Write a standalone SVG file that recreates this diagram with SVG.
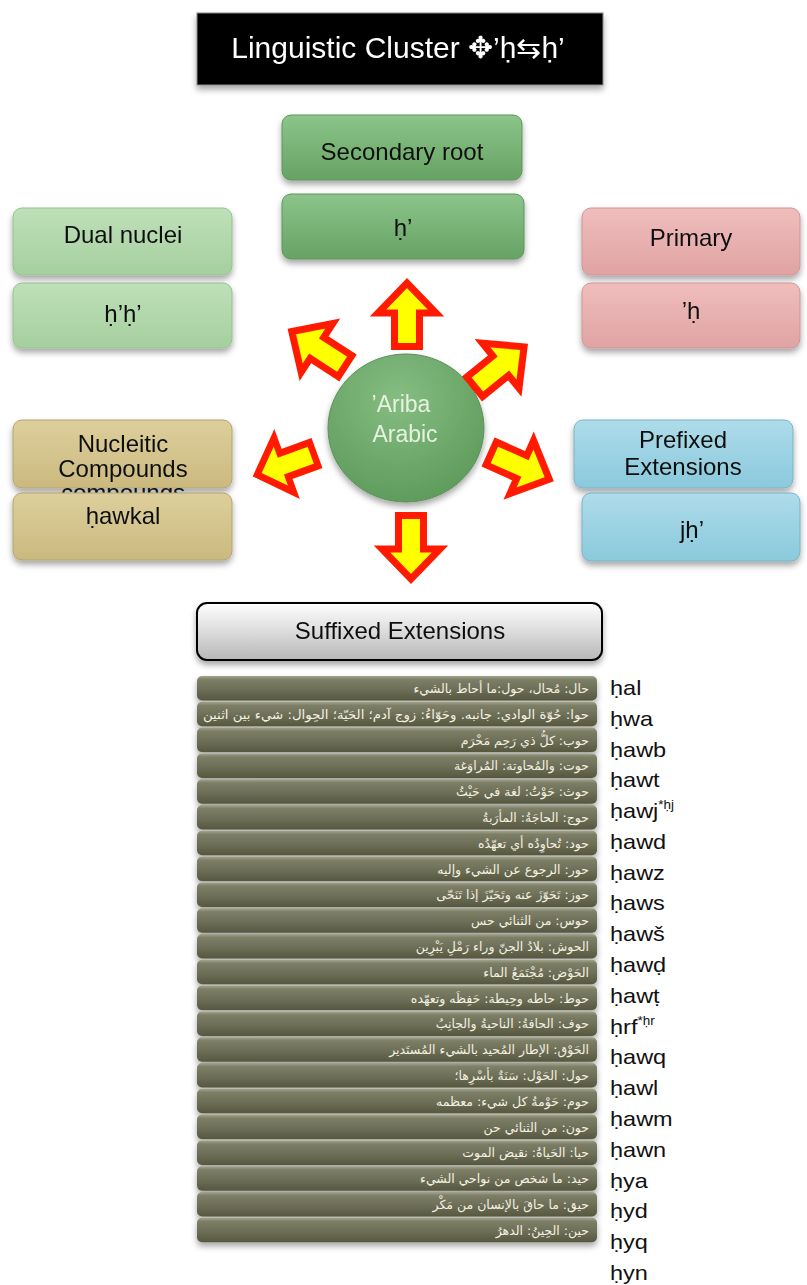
<svg xmlns="http://www.w3.org/2000/svg" xmlns:xlink="http://www.w3.org/1999/xlink" width="807" height="1285" viewBox="0 0 807 1285">
<style>
.lbl{font-family:"Liberation Sans",Arial,sans-serif;font-size:24px;fill:#111;text-anchor:middle}
.ttl{font-family:"Liberation Sans",Arial,sans-serif;font-size:30px;fill:#fff;text-anchor:middle}
.ar{font-family:"DejaVu Sans",sans-serif;font-size:12.5px;fill:#f4f1e2}
.lat{font-family:"Liberation Sans",Arial,sans-serif;font-size:21px;fill:#111}
.box{stroke-width:1}
.arrow{fill:#ffff00;stroke:#ff1a00;stroke-width:7;stroke-linejoin:miter}
</style>
<defs>
<filter id="sh" x="-10%" y="-10%" width="120%" height="140%"><feDropShadow dx="0" dy="4" stdDeviation="3" flood-color="#000" flood-opacity="0.35"/></filter>
<linearGradient id="gDark" x1="0" y1="0" x2="0" y2="1"><stop offset="0" stop-color="#8cc489"/><stop offset="1" stop-color="#66a364"/></linearGradient>
<linearGradient id="gLight" x1="0" y1="0" x2="0" y2="1"><stop offset="0" stop-color="#bfe0b9"/><stop offset="1" stop-color="#a5cf9f"/></linearGradient>
<linearGradient id="gPink" x1="0" y1="0" x2="0" y2="1"><stop offset="0" stop-color="#f0bdbd"/><stop offset="1" stop-color="#e0a3a3"/></linearGradient>
<linearGradient id="gTan" x1="0" y1="0" x2="0" y2="1"><stop offset="0" stop-color="#ddcf9c"/><stop offset="1" stop-color="#cbb97f"/></linearGradient>
<linearGradient id="gBlue" x1="0" y1="0" x2="0" y2="1"><stop offset="0" stop-color="#aedcea"/><stop offset="1" stop-color="#8ac9dc"/></linearGradient>
<linearGradient id="gGray" x1="0" y1="0" x2="0" y2="1"><stop offset="0" stop-color="#ffffff"/><stop offset="1" stop-color="#b8b8b8"/></linearGradient>
<linearGradient id="gBar" x1="0" y1="0" x2="0" y2="1"><stop offset="0" stop-color="#a3a48c"/><stop offset="0.15" stop-color="#7d7e66"/><stop offset="0.6" stop-color="#6b6c55"/><stop offset="1" stop-color="#56573f"/></linearGradient>
<radialGradient id="gCirc" cx="0.45" cy="0.3" r="0.75"><stop offset="0" stop-color="#86bd82"/><stop offset="1" stop-color="#5c9a5a"/></radialGradient>
<path id="arr" class="arrow" d="M-12.5,-3.5 V-37 H-29 L0,-67 L29,-37 H12.5 V-3.5 Z"/>
<clipPath id="gap"><rect x="12" y="488" width="222" height="5"/></clipPath>
</defs>
<rect width="807" height="1285" fill="#fff"/>

<g id="title" filter="url(#sh)">
<rect x="197" y="13" width="406" height="72" fill="#000" stroke="#888" stroke-width="1"/>
<text class="ttl" x="398" y="58">Linguistic Cluster ✥’ḥ⇆ḥ’</text>
</g>

<g id="secondary-root" filter="url(#sh)">
<rect x="282" y="115" width="240" height="65" rx="9" fill="url(#gDark)" stroke="#5f955d"/>
<text class="lbl" x="402" y="160">Secondary root</text>
</g>
<g id="secondary-root-value" filter="url(#sh)">
<rect x="282" y="194" width="242" height="65" rx="9" fill="url(#gDark)" stroke="#5f955d"/>
<text class="lbl" x="403" y="236">ḥ’</text>
</g>

<g id="dual-nuclei" filter="url(#sh)">
<rect x="13" y="208" width="219" height="67" rx="9" fill="url(#gLight)" stroke="#95c08f"/>
<text class="lbl" x="123" y="243">Dual nuclei</text>
</g>
<g id="dual-nuclei-value" filter="url(#sh)">
<rect x="13" y="283" width="219" height="65" rx="9" fill="url(#gLight)" stroke="#95c08f"/>
<text class="lbl" x="123" y="322">ḥ’ḥ’</text>
</g>

<g id="primary" filter="url(#sh)">
<rect x="582" y="208" width="218" height="67" rx="9" fill="url(#gPink)" stroke="#cf9595"/>
<text class="lbl" x="691" y="246">Primary</text>
</g>
<g id="primary-value" filter="url(#sh)">
<rect x="582" y="283" width="218" height="65" rx="9" fill="url(#gPink)" stroke="#cf9595"/>
<text class="lbl" x="691" y="319">’ḥ</text>
</g>

<g id="nucleitic" filter="url(#sh)">
<rect x="13" y="420" width="219" height="68" rx="9" fill="url(#gTan)" stroke="#b5a470"/>
<text class="lbl" x="123" y="452">Nucleitic</text>
<text class="lbl" x="123" y="477">Compounds</text>
</g>
<g id="nucleitic-overflow" clip-path="url(#gap)">
<text class="lbl" x="123" y="501">compounds</text>
</g>
<g id="nucleitic-value" filter="url(#sh)">
<rect x="13" y="493" width="219" height="67" rx="9" fill="url(#gTan)" stroke="#b5a470"/>
<text class="lbl" x="123" y="524">ḥawkal</text>
</g>

<g id="prefixed" filter="url(#sh)">
<rect x="574" y="420" width="219" height="68" rx="9" fill="url(#gBlue)" stroke="#7ab3c4"/>
<text class="lbl" x="683" y="448">Prefixed</text>
<text class="lbl" x="683" y="475">Extensions</text>
</g>
<g id="prefixed-value" filter="url(#sh)">
<rect x="582" y="493" width="218" height="68" rx="9" fill="url(#gBlue)" stroke="#7ab3c4"/>
<text class="lbl" x="692" y="538">jḥ’</text>
</g>

<g id="center" filter="url(#sh)">
<ellipse cx="406" cy="428" rx="78" ry="74" fill="url(#gCirc)" stroke="#5a9058"/>
<text class="lbl" x="401" y="412" style="fill:#e6f2df;font-size:23px">’Ariba</text>
<text class="lbl" x="405" y="442" style="fill:#e6f2df;font-size:23px">Arabic</text>
</g>

<g id="connectors">
<use xlink:href="#arr" transform="translate(407,350)"/>
<use xlink:href="#arr" transform="translate(348,368) rotate(-57)"/>
<use xlink:href="#arr" transform="translate(472,389) rotate(51)"/>
<use xlink:href="#arr" transform="translate(317,453) rotate(-110) scale(1,0.95)"/>
<use xlink:href="#arr" transform="translate(488,452) rotate(114)"/>
<use xlink:href="#arr" transform="translate(411,512) rotate(180)"/>
</g>

<g id="suffixed" filter="url(#sh)">
<rect x="197" y="603" width="405" height="57" rx="10" fill="url(#gGray)" stroke="#000" stroke-width="2"/>
<text class="lbl" x="400" y="639">Suffixed Extensions</text>
</g>

<g id="arabic-list">
<g filter="url(#sh)">
<rect x="197" y="676" width="400" height="24.5" rx="5" fill="url(#gBar)"/>
<rect x="197" y="701.8" width="400" height="24.5" rx="5" fill="url(#gBar)"/>
<rect x="197" y="727.6" width="400" height="24.5" rx="5" fill="url(#gBar)"/>
<rect x="197" y="753.4" width="400" height="24.5" rx="5" fill="url(#gBar)"/>
<rect x="197" y="779.2" width="400" height="24.5" rx="5" fill="url(#gBar)"/>
<rect x="197" y="805" width="400" height="24.5" rx="5" fill="url(#gBar)"/>
<rect x="197" y="830.8" width="400" height="24.5" rx="5" fill="url(#gBar)"/>
<rect x="197" y="856.6" width="400" height="24.5" rx="5" fill="url(#gBar)"/>
<rect x="197" y="882.4" width="400" height="24.5" rx="5" fill="url(#gBar)"/>
<rect x="197" y="908.2" width="400" height="24.5" rx="5" fill="url(#gBar)"/>
<rect x="197" y="934" width="400" height="24.5" rx="5" fill="url(#gBar)"/>
<rect x="197" y="959.8" width="400" height="24.5" rx="5" fill="url(#gBar)"/>
<rect x="197" y="985.6" width="400" height="24.5" rx="5" fill="url(#gBar)"/>
<rect x="197" y="1011.4" width="400" height="24.5" rx="5" fill="url(#gBar)"/>
<rect x="197" y="1037.2" width="400" height="24.5" rx="5" fill="url(#gBar)"/>
<rect x="197" y="1063" width="400" height="24.5" rx="5" fill="url(#gBar)"/>
<rect x="197" y="1088.8" width="400" height="24.5" rx="5" fill="url(#gBar)"/>
<rect x="197" y="1114.6" width="400" height="24.5" rx="5" fill="url(#gBar)"/>
<rect x="197" y="1140.4" width="400" height="24.5" rx="5" fill="url(#gBar)"/>
<rect x="197" y="1166.2" width="400" height="24.5" rx="5" fill="url(#gBar)"/>
<rect x="197" y="1192" width="400" height="24.5" rx="5" fill="url(#gBar)"/>
<rect x="197" y="1217.8" width="400" height="24.5" rx="5" fill="url(#gBar)"/>
</g>
<g class="ar" direction="rtl" text-anchor="start">
<text x="589" y="693">حال: مُحال، حول:ما أحاط بالشيء</text>
<text x="589" y="719" textLength="386" lengthAdjust="spacingAndGlyphs">حوا: حُوّة الوادي: جانبه. وحَوّاءُ: زوج آدم؛ الحَيّة؛ الحِوال: شيء بين اثنين</text>
<text x="589" y="745">حوب: كلُّ ذي رَحِم مَحْرَم</text>
<text x="589" y="770">حوت: والمُحاوتة: المُراوَغة</text>
<text x="589" y="796">حوث: حَوْثُ: لغة في حَيْثُ</text>
<text x="589" y="822">حوج: الحاجَةُ: المأرَبةُ</text>
<text x="589" y="848">حود: تُحاوِدُه أي تعهّدُه</text>
<text x="589" y="874">حور: الرجوع عن الشيء وإليه</text>
<text x="589" y="899">حوز: تَحَوّزَ عنه وتَحَيّزَ إذا تَنَحّى</text>
<text x="589" y="925">حوس: من الثنائي حس</text>
<text x="589" y="951">الحوش: بلادُ الجنّ وراء رَمْلِ يَبْرِين</text>
<text x="589" y="977">الحَوْض: مُجْتَمَعُ الماء</text>
<text x="589" y="1003">حوط: حاطه وحِيطة: حَفِظَه وتعهّده</text>
<text x="589" y="1028">حوف: الحافةُ: الناحيةُ والجانِبُ</text>
<text x="589" y="1054">الحَوْق: الإطار المُحيد بالشيء المُستَدير</text>
<text x="589" y="1080">حول: الحَوْل: سَنَةٌ بأسْرِها؛</text>
<text x="589" y="1106">حوم: حَوْمةُ كل شيء: معظمه</text>
<text x="589" y="1132">حون: من الثنائي حن</text>
<text x="589" y="1157">حيا: الحَياةُ: نقيض الموت</text>
<text x="589" y="1183">حيد: ما شخص من نواحي الشيء</text>
<text x="589" y="1209">حيق: ما حاقَ بالإنسان من مَكْر</text>
<text x="589" y="1235">حين: الحِينُ: الدهرُ</text>
</g>
</g>

<g id="transliterations" class="lat" transform="translate(610,0) scale(1.12,1)">
<text x="0" y="695">ḥal</text>
<text x="0" y="726">ḥwa</text>
<text x="0" y="757">ḥawb</text>
<text x="0" y="787">ḥawt</text>
<text x="0" y="818">ḥawj<tspan font-size="12" dy="-9">*ḥj</tspan></text>
<text x="0" y="849">ḥawd</text>
<text x="0" y="880">ḥawz</text>
<text x="0" y="910">ḥaws</text>
<text x="0" y="941">ḥawš</text>
<text x="0" y="972">ḥawḍ</text>
<text x="0" y="1003">ḥawṭ</text>
<text x="0" y="1034">ḥrf<tspan font-size="12" dy="-9">*ḥr</tspan></text>
<text x="0" y="1064">ḥawq</text>
<text x="0" y="1095">ḥawl</text>
<text x="0" y="1126">ḥawm</text>
<text x="0" y="1157">ḥawn</text>
<text x="0" y="1188">ḥya</text>
<text x="0" y="1218">ḥyd</text>
<text x="0" y="1249">ḥyq</text>
<text x="0" y="1280">ḥyn</text>
</g>
</svg>
